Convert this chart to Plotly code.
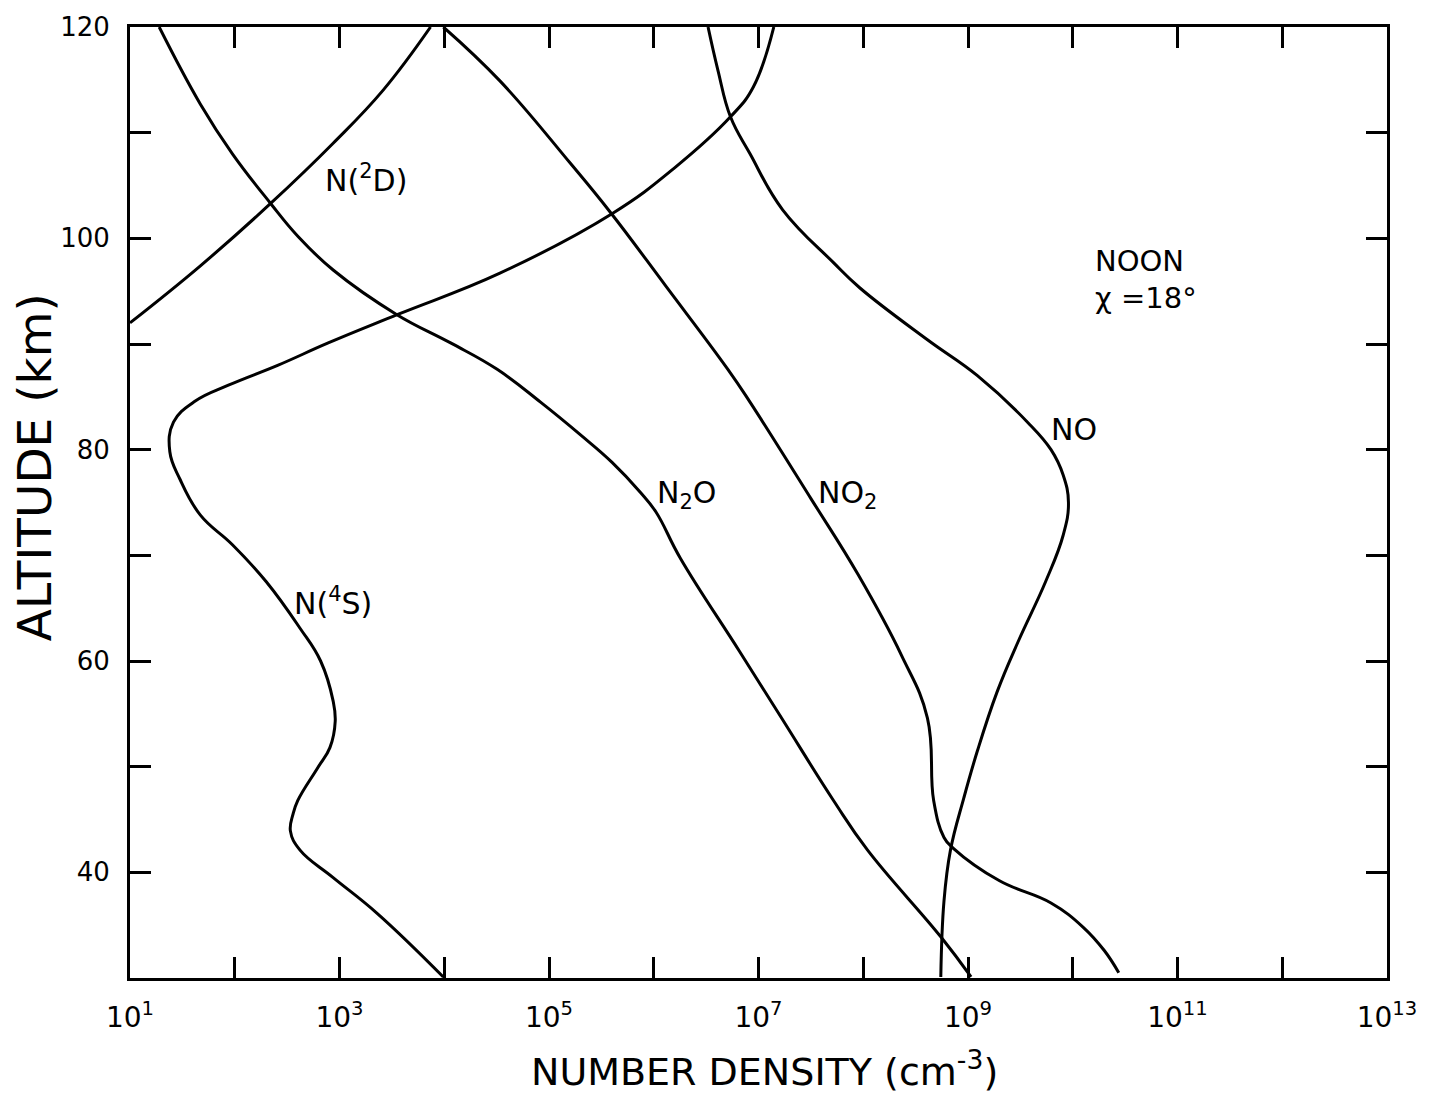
import plotly.graph_objects as go

# Altitude profiles (km) and number densities (cm^-3), noon, solar zenith angle 18 deg
n2d_alt = [92.0, 97.4, 103.3, 109.0, 114.0, 120.0]
n2d_den = [1.0e1, 4.7e1, 2.2e2, 8.7e2, 2.6e3, 7.4e3]

n4s_alt = [30.1, 36.1, 39.5, 42.1, 43.9, 45.5, 46.8, 49.9, 51.8, 54.3, 56.2, 60.0,
           63.1, 67.5, 71.0, 73.8, 77.2, 79.8, 82.6, 84.6, 86.1, 88.0, 90.1, 92.8,
           96.7, 102.4, 106.6, 111.5, 114.3, 120.0]
n4s_den = [9.8e3, 2.3e3, 8.7e2, 4.2e2, 3.4e2, 3.6e2, 4.0e2, 6.2e2, 8.1e2, 9.1e2, 8.7e2, 6.6e2,
           4.2e2, 2.0e2, 9.5e1, 4.7e1, 3.0e1, 2.4e1, 2.6e1, 4.2e1, 8.7e1, 2.6e2, 7.8e2, 3.6e3,
           3.4e4, 4.1e5, 1.55e6, 5.4e6, 8.9e6, 1.4e7]

n2o_alt = [30.1, 33.9, 42.1, 46.8, 54.6, 60.9, 69.7, 74.1, 76.0, 78.8, 81.4, 84.5,
           87.6, 90.1, 92.8, 97.0, 100.2, 103.3, 108.0, 112.7, 120.0]
n2o_den = [1.07e9, 5.5e8, 1.1e8, 5.2e7, 1.66e7, 6.6e6, 1.8e6, 1.05e6, 7.4e5, 4.0e5, 2.0e5, 8.3e4,
           3.2e4, 1.15e4, 3.5e3, 8.7e2, 4.0e2, 2.2e2, 9.5e1, 4.7e1, 1.9e1]

no2_alt = [30.5, 32.6, 34.8, 37.1, 39.2, 42.3, 43.3, 46.8, 54.6, 60.6, 68.2, 75.3,
           84.5, 87.6, 95.5, 102.4, 107.1, 114.9, 120.0]
no2_den = [2.75e10, 2.0e10, 1.26e10, 6.2e9, 2.0e9, 7.2e8, 5.9e8, 4.7e8, 4.1e8, 2.3e8, 8.9e7, 3.2e7,
           8.3e6, 5.1e6, 1.3e6, 3.9e5, 1.6e5, 3.4e4, 9.8e3]

no_alt = [30.1, 37.3, 42.1, 47.0, 51.5, 57.1, 61.8, 67.5, 71.9, 75.0, 77.6, 80.0,
          82.6, 87.0, 90.4, 95.3, 97.7, 102.7, 108.0, 111.5, 115.9, 120.0]
no_den = [5.5e8, 5.9e8, 6.8e8, 9.1e8, 1.23e9, 1.9e9, 3.0e9, 5.5e9, 8.1e9, 9.1e9, 8.1e9, 6.2e9,
          3.7e9, 1.23e9, 4.1e8, 9.3e7, 5.2e7, 1.7e7, 8.3e6, 5.4e6, 4.1e6, 3.3e6]

# Curve labels: (text, log10 density, altitude)
curve_labels = [
    ("N(<sup>2</sup>D)", 3.25, 105.7),
    ("N(<sup>4</sup>S)", 2.94, 65.6),
    ("N<sub>2</sub>O", 6.31, 75.8),
    ("NO<sub>2</sub>", 7.85, 75.8),
    ("NO", 10.01, 81.9),
]

x_tick_powers = list(range(1, 14))
y_tick_vals = list(range(30, 121, 10))
y_tick_text = ["" if v in (30, 50, 70, 90, 110) else str(v) for v in y_tick_vals]

FONT = "DejaVu Sans"
INK = "black"

fig = go.Figure()
for alt, den in [(n2d_alt, n2d_den), (n4s_alt, n4s_den), (n2o_alt, n2o_den),
                 (no2_alt, no2_den), (no_alt, no_den)]:
    fig.add_trace(go.Scatter(
        x=den, y=alt, mode="lines",
        line=dict(color=INK, width=3, shape="spline", smoothing=1.2),
        showlegend=False, hoverinfo="skip", cliponaxis=True,
    ))

for text, lx, ly in curve_labels:
    fig.add_annotation(x=lx, y=ly, xref="x", yref="y", text=text, showarrow=False,
                       xanchor="center", yanchor="middle",
                       font=dict(family=FONT, size=30, color=INK))

fig.add_annotation(x=10.19, y=97.9, xref="x", yref="y", text="NOON", showarrow=False,
                   xanchor="left", yanchor="middle",
                   font=dict(family=FONT, size=29, color=INK))
fig.add_annotation(x=10.19, y=94.4, xref="x", yref="y", text="χ =18°", showarrow=False,
                   xanchor="left", yanchor="middle",
                   font=dict(family=FONT, size=29, color=INK))

# Axis titles
fig.add_annotation(x=0.505, y=-0.124, xref="paper", yref="paper",
                   text="NUMBER DENSITY (cm<sup>-3</sup>)", showarrow=False,
                   xanchor="center", yanchor="bottom",
                   font=dict(family=FONT, size=38, color=INK))
fig.add_annotation(x=-0.0765, y=0.537, xref="paper", yref="paper",
                   text="ALTITUDE (km)", textangle=-90, showarrow=False,
                   xanchor="center", yanchor="middle",
                   font=dict(family=FONT, size=47, color=INK))

fig.update_xaxes(
    type="log", range=[1, 13],
    tickvals=[10 ** p for p in x_tick_powers],
    ticktext=[f"10<sup>{p}</sup>" if p % 2 == 1 else "" for p in x_tick_powers],
    ticks="inside", ticklen=21, tickwidth=3, tickcolor=INK,
    showline=True, linewidth=3, linecolor=INK, mirror="ticks",
    showgrid=False, zeroline=False,
    tickfont=dict(family=FONT, size=28, color=INK),
    ticklabelstandoff=12,
)
fig.update_yaxes(
    range=[30, 120],
    tickvals=y_tick_vals, ticktext=y_tick_text,
    ticks="inside", ticklen=21, tickwidth=3, tickcolor=INK,
    showline=True, linewidth=3, linecolor=INK, mirror="ticks",
    showgrid=False, zeroline=False,
    tickfont=dict(family=FONT, size=26, color=INK),
    ticklabelstandoff=12,
)

fig.update_layout(
    width=1433, height=1100,
    margin=dict(l=130, r=46, t=23, b=122),
    paper_bgcolor="white", plot_bgcolor="white",
)

fig.write_html("out.html")
